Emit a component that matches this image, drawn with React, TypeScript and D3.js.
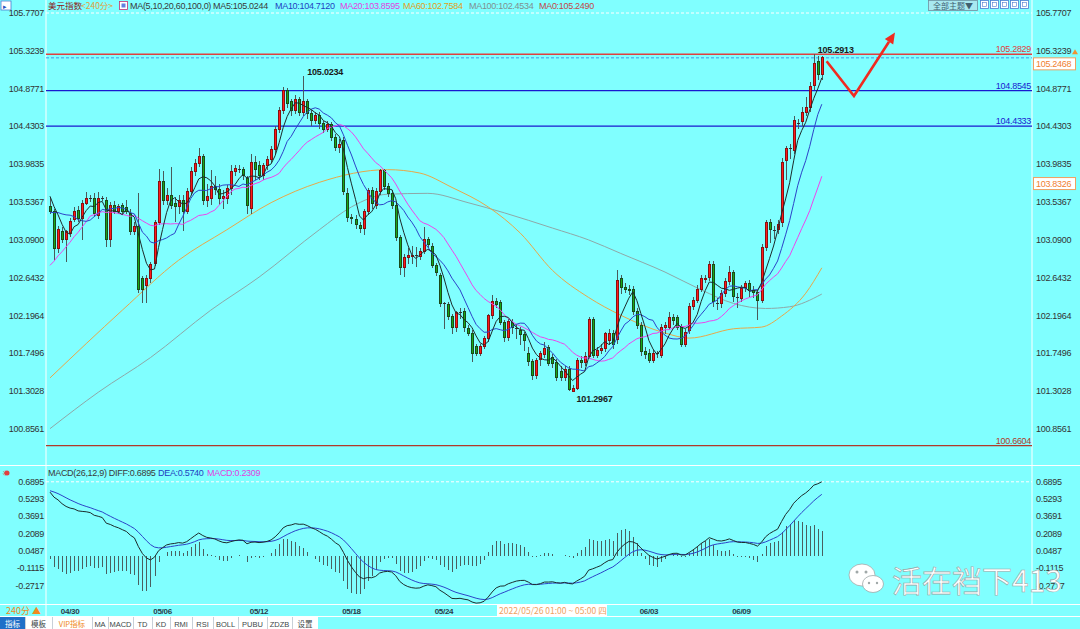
import React from "react";
import * as d3 from "d3";

// [open, high, low, close] for each 240-minute bar
const candles: [number, number, number, number][] = [
  [103.48, 103.58, 103.40, 103.43], [103.42, 103.45, 102.85, 102.99], [102.99, 103.25, 102.93, 103.21], [103.19, 103.24, 103.05, 103.09], [103.09, 103.21, 102.83, 103.19],
  [103.17, 103.35, 103.13, 103.31], [103.33, 103.48, 103.30, 103.43], [103.44, 103.49, 103.30, 103.34], [103.34, 103.56, 103.09, 103.52], [103.52, 103.66, 103.50, 103.58],
  [103.58, 103.62, 103.54, 103.58], [103.58, 103.64, 103.36, 103.40], [103.38, 103.66, 103.34, 103.58], [103.58, 103.61, 103.55, 103.58], [103.56, 103.60, 103.01, 103.09],
  [103.09, 103.54, 103.01, 103.50], [103.50, 103.55, 103.40, 103.43], [103.43, 103.52, 103.40, 103.49], [103.50, 103.53, 103.40, 103.43], [103.47, 103.56, 103.40, 103.43],
  [103.40, 103.45, 103.15, 103.19], [103.19, 103.30, 103.15, 103.25], [103.25, 103.64, 102.46, 102.50], [102.63, 102.66, 102.34, 102.50], [102.55, 102.68, 102.34, 102.63],
  [102.63, 102.83, 102.58, 102.80], [102.81, 103.33, 102.78, 103.30], [103.30, 103.93, 103.27, 103.78], [103.78, 103.91, 103.50, 103.56], [103.56, 103.70, 103.50, 103.62],
  [103.62, 103.95, 103.45, 103.50], [103.52, 103.60, 103.30, 103.48], [103.48, 103.62, 103.40, 103.55], [103.56, 103.62, 103.20, 103.43], [103.43, 103.70, 103.40, 103.66],
  [103.66, 103.95, 103.62, 103.90], [103.90, 104.05, 103.85, 103.99], [103.99, 104.17, 103.95, 104.07], [104.07, 104.10, 103.50, 103.56], [103.56, 103.75, 103.48, 103.60],
  [103.58, 103.92, 103.50, 103.72], [103.72, 103.85, 103.62, 103.69], [103.69, 103.75, 103.50, 103.58], [103.58, 103.68, 103.45, 103.60], [103.58, 103.74, 103.52, 103.70],
  [103.70, 103.98, 103.62, 103.90], [103.90, 103.98, 103.85, 103.93], [103.93, 103.97, 103.88, 103.93], [103.92, 103.95, 103.80, 103.85], [103.82, 103.85, 103.40, 103.50],
  [103.46, 104.10, 103.40, 104.01], [104.01, 104.08, 103.80, 103.92], [103.97, 104.02, 103.80, 103.85], [103.85, 104.00, 103.80, 103.97], [103.97, 104.08, 103.92, 104.04],
  [104.04, 104.20, 104.00, 104.16], [104.16, 104.44, 104.10, 104.40], [104.40, 104.66, 104.35, 104.62], [104.62, 104.90, 104.58, 104.86], [104.86, 104.89, 104.65, 104.70],
  [104.72, 104.76, 104.55, 104.62], [104.62, 104.80, 104.58, 104.75], [104.75, 104.78, 104.55, 104.60], [104.60, 105.0234, 104.55, 104.72], [104.72, 104.76, 104.52, 104.58],
  [104.58, 104.62, 104.44, 104.50], [104.50, 104.60, 104.46, 104.56], [104.56, 104.60, 104.40, 104.46], [104.46, 104.50, 104.35, 104.40], [104.40, 104.50, 104.36, 104.45],
  [104.45, 104.48, 104.26, 104.30], [104.30, 104.34, 104.14, 104.18], [104.18, 104.28, 104.12, 104.22], [104.27, 104.30, 103.62, 103.66], [103.64, 103.70, 103.30, 103.36],
  [103.36, 103.40, 103.28, 103.34], [103.33, 103.38, 103.22, 103.27], [103.26, 103.30, 103.17, 103.23], [103.23, 103.46, 103.15, 103.42], [103.42, 103.70, 103.38, 103.67],
  [103.67, 103.72, 103.45, 103.52], [103.50, 103.70, 103.46, 103.66], [103.66, 103.93, 103.62, 103.91], [103.91, 103.93, 103.68, 103.72], [103.72, 103.76, 103.60, 103.64],
  [103.64, 103.68, 103.46, 103.50], [103.50, 103.54, 103.08, 103.12], [103.12, 103.15, 102.67, 102.76], [102.76, 102.92, 102.65, 102.88], [102.88, 103.00, 102.80, 102.90],
  [102.90, 103.02, 102.80, 102.91], [102.91, 103.01, 102.77, 102.91], [102.89, 103.00, 102.85, 102.95], [102.95, 103.24, 102.92, 103.09], [103.09, 103.12, 103.00, 103.03],
  [103.01, 103.05, 102.76, 102.79], [102.79, 102.82, 102.66, 102.70], [102.67, 102.70, 102.30, 102.34], [102.34, 102.36, 102.04, 102.34], [102.33, 102.36, 102.14, 102.18],
  [102.18, 102.21, 101.98, 102.05], [102.05, 102.25, 102.00, 102.23], [102.24, 102.28, 102.15, 102.24], [102.25, 102.28, 102.00, 102.05], [102.04, 102.08, 101.95, 101.99],
  [101.99, 102.02, 101.65, 101.75], [101.83, 101.86, 101.72, 101.75], [101.75, 101.86, 101.72, 101.83], [101.83, 101.95, 101.80, 101.92], [101.92, 102.22, 101.88, 102.20],
  [102.20, 102.44, 102.16, 102.36], [102.36, 102.40, 102.28, 102.33], [102.35, 102.38, 102.08, 102.11], [102.11, 102.14, 101.88, 101.94], [101.94, 102.16, 101.90, 102.13],
  [102.12, 102.16, 101.98, 102.06], [102.05, 102.10, 101.92, 102.05], [102.02, 102.06, 101.85, 101.97], [101.97, 102.00, 101.78, 101.90], [101.75, 101.82, 101.60, 101.65],
  [101.65, 101.68, 101.43, 101.49], [101.49, 101.70, 101.45, 101.67], [101.68, 101.78, 101.60, 101.75], [101.74, 101.88, 101.70, 101.81], [101.82, 101.85, 101.60, 101.63],
  [101.70, 101.74, 101.58, 101.63], [101.64, 101.68, 101.42, 101.46], [101.54, 101.60, 101.42, 101.46], [101.46, 101.60, 101.42, 101.56], [101.56, 101.60, 101.30, 101.32],
  [101.30, 101.38, 101.2967, 101.34], [101.34, 101.70, 101.32, 101.66], [101.66, 101.72, 101.58, 101.64], [101.64, 101.76, 101.60, 101.71], [101.71, 102.18, 101.68, 102.15],
  [102.15, 102.18, 101.70, 101.73], [101.73, 101.82, 101.70, 101.78], [101.78, 101.86, 101.74, 101.81], [101.81, 102.00, 101.76, 101.98], [101.90, 102.04, 101.85, 101.98],
  [101.98, 102.02, 101.80, 101.86], [101.91, 102.73, 101.86, 102.61], [102.63, 102.68, 102.45, 102.53], [102.53, 102.58, 102.46, 102.51], [102.51, 102.56, 102.44, 102.50],
  [102.50, 102.54, 102.20, 102.24], [102.24, 102.28, 102.04, 102.08], [102.08, 102.12, 101.72, 101.77], [101.77, 101.82, 101.68, 101.74], [101.75, 101.80, 101.63, 101.67],
  [101.67, 101.79, 101.64, 101.75], [101.75, 101.78, 101.70, 101.75], [101.73, 102.10, 101.70, 102.06], [102.06, 102.12, 101.98, 102.08], [102.06, 102.24, 102.02, 102.17],
  [102.17, 102.22, 102.08, 102.14], [102.17, 102.20, 102.02, 102.06], [102.06, 102.10, 101.82, 101.85], [101.85, 102.04, 101.82, 102.00], [102.02, 102.34, 101.98, 102.30],
  [102.30, 102.42, 102.26, 102.38], [102.38, 102.56, 102.34, 102.51], [102.51, 102.68, 102.48, 102.63], [102.63, 102.68, 102.58, 102.64], [102.65, 102.84, 102.60, 102.80],
  [102.80, 102.84, 102.30, 102.36], [102.34, 102.40, 102.26, 102.34], [102.34, 102.50, 102.28, 102.46], [102.46, 102.64, 102.42, 102.60], [102.60, 102.78, 102.56, 102.71],
  [102.71, 102.74, 102.36, 102.42], [102.41, 102.46, 102.28, 102.41], [102.40, 102.56, 102.36, 102.52], [102.53, 102.60, 102.48, 102.57], [102.57, 102.62, 102.42, 102.49],
  [102.49, 102.54, 102.40, 102.47], [102.47, 102.50, 102.14, 102.38], [102.38, 103.04, 102.34, 103.00], [103.00, 103.33, 102.96, 103.29], [103.29, 103.34, 103.05, 103.21],
  [103.21, 103.26, 103.10, 103.21], [103.21, 103.32, 103.16, 103.27], [103.29, 104.06, 103.24, 104.01], [104.03, 104.20, 103.80, 104.17], [104.17, 104.22, 104.05, 104.17],
  [104.15, 104.55, 104.10, 104.50], [104.47, 104.52, 104.40, 104.47], [104.49, 104.66, 104.44, 104.60], [104.60, 104.78, 104.55, 104.66], [104.66, 104.95, 104.60, 104.90],
  [104.92, 105.2913, 104.86, 105.18], [105.20, 105.26, 104.98, 105.04], [105.04, 105.26, 104.98, 105.24],
];

// closes before the visible window (warm-up for the moving averages)
const preCloses = [102.0, 101.95, 102.1, 102.05, 102.2, 102.15, 102.3, 102.25, 102.35, 102.25, 103.05, 103.2, 103.25, 103.3, 103.35, 103.6, 103.7, 103.65, 103.65];

// long moving averages (bar index, value)
const ma60Idx = [0, 18, 32, 44, 55, 67, 84, 92, 100, 109, 117, 125, 134, 142, 153, 159, 170, 177, 182, 188, 192];
const ma60Val = [101.46, 102.26, 102.85, 103.21, 103.53, 103.77, 103.92, 103.88, 103.71, 103.48, 103.17, 102.73, 102.41, 102.20, 101.99, 101.93, 102.04, 102.06, 102.19, 102.46, 102.76];
const ma100Idx = [0, 12, 25, 40, 52, 67, 75, 84, 94, 104, 113, 125, 134, 142, 153, 162, 170, 178, 184, 192];
const ma100Val = [100.86, 101.29, 101.70, 102.26, 102.65, 103.21, 103.48, 103.63, 103.64, 103.53, 103.41, 103.23, 103.09, 102.93, 102.71, 102.50, 102.34, 102.28, 102.30, 102.45];

// EMA12, EMA26, DEA carried in from before the window
const macdSeed = [102.95, 102.35, 0.61];

const priceTicks = [105.7707, 105.3239, 104.8771, 104.4303, 103.9835, 103.5367, 103.09, 102.6432, 102.1964, 101.7496, 101.3028, 100.8561];
const macdTicks = [0.6895, 0.5293, 0.3691, 0.2089, 0.0487, -0.1115, -0.2717];
const dateLabels = ["04/30", "05/06", "05/12", "05/18", "05/24", "06/03", "06/09"];
const dateIdx = [5, 28, 52, 75, 98, 149, 172];

const levelValues = [105.2829, 104.8545, 104.4333, 100.6604];
const lastPrice = 105.2468;
const markerValue = 103.8326;
const peakIdx = [190, 63, 130];
const peakVal = [105.2913, 105.0234, 101.2967];
const arrowIdx = [193.2, 200, 209.8];
const arrowVal = [105.2, 104.79, 105.51];

const headerTexts = ["MA(5,10,20,60,100,0)", "MA5:105.0244", "MA10:104.7120", "MA20:103.8595", "MA60:102.7584", "MA100:102.4534", "MA0:105.2490"];
const tabs = ["指标", "模板", "VIP指标", "MA", "MACD", "TD", "KD", "RMI", "RSI", "BOLL", "PUBU", "ZDZB", "设置"];

const FONT = "'Liberation Sans', Arial, sans-serif";
const CJK = "'Noto Sans CJK SC', 'Noto Sans', sans-serif";

function sma(n: number): number[] {
  const all = [...preCloses, ...candles.map((c) => c[3])];
  const off = preCloses.length;
  return candles.map((_, i) => {
    const j = i + off;
    let s = 0;
    for (let k = j - n + 1; k <= j; k++) s += all[k];
    return s / n;
  });
}

export default function App() {
  const n = candles.length;
  const x = d3.scaleLinear().domain([0, n - 1]).range([50, 821.8]);
  const y = d3.scaleLinear().domain([100.8561, 105.7707]).range([429, 13]);
  const ym = d3.scaleLinear().domain([-0.2717, 0.6895]).range([585.6, 481.8]);

  const ma5 = sma(5), ma10 = sma(10), ma20 = sma(20);
  const line = d3.line<number>().x((_, i) => x(i)).y((d) => y(d));
  const knot = d3.line<[number, number]>().x((d) => x(d[0])).y((d) => y(d[1])).curve(d3.curveMonotoneX);
  const ma60 = ma60Idx.map((v, i) => [v, ma60Val[i]] as [number, number]);
  const ma100 = ma100Idx.map((v, i) => [v, ma100Val[i]] as [number, number]);

  // MACD
  let e12 = macdSeed[0], e26 = macdSeed[1], dea = macdSeed[2];
  const diffs: number[] = [], deas: number[] = [], hist: number[] = [];
  candles.forEach((c) => {
    e12 = e12 + (c[3] - e12) * 2 / 13;
    e26 = e26 + (c[3] - e26) * 2 / 27;
    const df = e12 - e26;
    dea = dea + (df - dea) * 2 / 10;
    diffs.push(df); deas.push(dea); hist.push(2 * (df - dea));
  });
  const mline = d3.line<number>().x((_, i) => x(i)).y((d) => ym(d));

  const arrowPts = arrowIdx.map((v, i) => [x(v), y(arrowVal[i])] as [number, number]);
  const [ax1, ay1] = arrowPts[1], [ax2, ay2] = arrowPts[2];
  const ang = Math.atan2(ay2 - ay1, ax2 - ax1);
  const hl = 11, hw = 5;
  const tip: [number, number] = [ax2 + Math.cos(ang) * 3, ay2 + Math.sin(ang) * 3];
  const base: [number, number] = [tip[0] - Math.cos(ang) * hl, tip[1] - Math.sin(ang) * hl];
  const head = [tip, [base[0] + Math.sin(ang) * hw, base[1] - Math.cos(ang) * hw], [base[0] - Math.sin(ang) * hw, base[1] + Math.cos(ang) * hw]];

  const headerX = [130, 213, 275, 340, 403, 469, 539];
  const headerColors = ["#3a3a3a", "#3a3a3a", "#1f3fbf", "#e23ee2", "#e0a020", "#7f8f8f", "#c04848"];
  const tabEdges = [0, 25, 52, 92, 108, 133, 152, 170, 192, 213, 238, 267, 292, 318];
  const levelColors = ["#e04040", "#1a1ad0", "#1a1ad0", "#b03a2a"];

  return (
    <svg width={1080} height={629} style={{ display: "block", position: "absolute", left: 0, top: 0 }} fontFamily={FONT}>
      <rect x={0} y={0} width={1080} height={629} fill="#80ffff" />

      {/* frame lines */}
      <line x1={46} x2={46} y1={0} y2={617} stroke="#ffffff" strokeWidth={1} />
      <line x1={1032} x2={1032} y1={0} y2={604} stroke="#ffffff" strokeWidth={1} />
      <line x1={0} x2={1080} y1={465.5} y2={465.5} stroke="#ffffff" strokeWidth={1} />
      <line x1={0} x2={1080} y1={604.5} y2={604.5} stroke="#ffffff" strokeWidth={1} />
      <line x1={0} x2={1080} y1={616.5} y2={616.5} stroke="#ffffff" strokeWidth={1} />
      <line x1={46} x2={1032} y1={y(priceTicks[0])} y2={y(priceTicks[0])} stroke="#ffffff" strokeDasharray="3,2" />
      <line x1={46} x2={1032} y1={ym(macdTicks[0])} y2={ym(macdTicks[0])} stroke="#ffffff" strokeDasharray="3,2" />

      {/* header */}
      <rect x={1} y={1} width={10} height={9} fill="#ffffff" stroke="#4a7ad0" strokeWidth={0.8} />
      <text x={3} y={8.5} fontSize={7} fill="#2050c0">▸</text>
      <text x={48} y={9} fontSize={8.5} fontFamily={CJK} fill="#8b2020">美元指数</text>
      <text x={81} y={9} fontSize={8.5} fontFamily={CJK} fill="#e0a040">{"<240分>"}</text>
      <rect x={119.5} y={1.5} width={8} height={8} fill="#ffffff" stroke="#c03070" strokeWidth={0.8} />
      <rect x={121.5} y={3.5} width={4} height={4} fill="#6080e0" />
      {headerTexts.map((t, i) => (
        <text key={t} x={headerX[i]} y={9} fontSize={9} letterSpacing={-0.3} fill={headerColors[i]}>{t}</text>
      ))}
      <rect x={928.5} y={0.5} width={49} height={10} fill="#a8e8f0" stroke="#7090a0" strokeWidth={0.8} />
      <text x={933} y={8.5} fontSize={8} fontFamily={CJK} fill="#406070">全部主题▼</text>
      {[981, 991, 1001, 1011, 1021].map((bx) => (
        <g key={bx}>
          <rect x={bx - 0.5} y={0.5} width={8} height={8} fill="#ffffff" stroke="#4a7ad0" strokeWidth={0.8} />
          <rect x={bx + 1.5} y={2.5} width={4} height={4} fill="none" stroke="#4a7ad0" strokeWidth={0.6} />
        </g>
      ))}

      {/* price ticks */}
      {priceTicks.map((t) => (
        <g key={t}>
          <text x={44} y={y(t) + 3} fontSize={9} letterSpacing={-0.3} textAnchor="end" fill="#333333">{t.toFixed(4)}</text>
          <text x={1036} y={y(t) + 3} fontSize={9} letterSpacing={-0.3} fill="#333333">{t.toFixed(4)}</text>
        </g>
      ))}

      {/* level lines */}
      {levelValues.map((v, i) => (
        <g key={v}>
          <line x1={46} x2={1032} y1={y(v)} y2={y(v)} stroke={levelColors[i]} strokeWidth={i === 0 ? 1.6 : 1.3} />
          <text x={1031} y={y(v) - 2} fontSize={9} letterSpacing={-0.3} textAnchor="end" fill={levelColors[i]}>{v.toFixed(4)}</text>
        </g>
      ))}
      <line x1={46} x2={1032} y1={y(lastPrice) + 0.5} y2={y(lastPrice) + 0.5} stroke="#3a8ce8" strokeDasharray="3,2" strokeWidth={0.9} />
      <rect x={1033.5} y={y(lastPrice) + 0.5} width={42} height={12} fill="#ffffff" stroke="#f0a060" strokeWidth={1} />
      <text x={1036} y={y(lastPrice) + 10} fontSize={9} letterSpacing={-0.3} fill="#f08030">{lastPrice.toFixed(4)}</text>
      <rect x={1033.5} y={y(markerValue) + 0.5} width={42} height={12} fill="#ffffff" stroke="#f0a060" strokeWidth={1} />
      <text x={1036} y={y(markerValue) + 10} fontSize={9} letterSpacing={-0.3} fill="#f08030">{markerValue.toFixed(4)}</text>
      <path d={`M1072,${y(lastPrice) - 3} l3,-5 l3,5 z`} fill="#f09030" />

      {/* long MAs */}
      <path d={knot(ma100) || ""} fill="none" stroke="#8ea8a8" strokeWidth={1} />
      <path d={knot(ma60) || ""} fill="none" stroke="#e8a848" strokeWidth={1} />

      {/* candles */}
      <g shapeRendering="crispEdges">
        {candles.map((c, i) => {
          const cx = Math.round(x(i));
          const [o, h, l, cl] = c;
          const up = cl > o, flat = Math.abs(cl - o) < 0.005;
          const top = y(Math.max(o, cl)), bot = y(Math.min(o, cl));
          return (
            <g key={i}>
              <line x1={cx + 0.5} x2={cx + 0.5} y1={y(h)} y2={y(l)} stroke="#4a5a5a" strokeWidth={1} />
              {flat ? (
                <line x1={cx - 1} x2={cx + 2} y1={Math.round(top) + 0.5} y2={Math.round(top) + 0.5} stroke="#303030" />
              ) : (
                <rect x={cx - 0.5} y={top} width={2} height={Math.max(1, bot - top)} fill={up ? "#ff1a1a" : "#18a818"} stroke={up ? "#8a1010" : "#1a4a1a"} strokeWidth={1} />
              )}
            </g>
          );
        })}
      </g>

      {/* short MAs */}
      <path d={line(ma20) || ""} fill="none" stroke="#ee44ee" strokeWidth={1} />
      <path d={line(ma10) || ""} fill="none" stroke="#2c44c8" strokeWidth={1} />
      <path d={line(ma5) || ""} fill="none" stroke="#1c2c2c" strokeWidth={1} />

      {/* peak labels */}
      {peakIdx.map((pi, k) => (
        <text key={pi} x={x(pi) + 4} y={k === 2 ? y(peakVal[k]) + 10 : y(peakVal[k]) - 1} fontSize={9} fontWeight="bold" letterSpacing={-0.2} fill="#1a1a1a">{peakVal[k].toFixed(4)}</text>
      ))}

      {/* red arrow */}
      <polyline points={arrowPts.slice(0, 2).concat([base]).map((p) => p.join(",")).join(" ")} fill="none" stroke="#f02a20" strokeWidth={2.6} strokeLinejoin="miter" />
      <polygon points={head.map((p) => p.join(",")).join(" ")} fill="#f02a20" />

      {/* MACD panel */}
      <circle cx={7} cy={473} r={2.5} fill="#e04040" />
      <text x={2} y={476} fontSize={8} fill="#e04040">✳</text>
      <text x={48} y={476} fontSize={9} letterSpacing={-0.3} fill="#3a3a3a">MACD(26,12,9) DIFF:0.6895</text>
      <text x={158} y={476} fontSize={9} letterSpacing={-0.3} fill="#1f3fbf">DEA:0.5740</text>
      <text x={207} y={476} fontSize={9} letterSpacing={-0.3} fill="#e23ee2">MACD:0.2309</text>
      {macdTicks.map((t) => (
        <g key={t}>
          <text x={44} y={ym(t) + 3} fontSize={9} letterSpacing={-0.3} textAnchor="end" fill="#333333">{t.toFixed(4)}</text>
          <text x={1036} y={ym(t) + 3} fontSize={9} letterSpacing={-0.3} fill="#333333">{t.toFixed(4)}</text>
        </g>
      ))}
      <g shapeRendering="crispEdges">
        {hist.map((h, i) => (
          <line key={i} x1={Math.round(x(i)) + 0.5} x2={Math.round(x(i)) + 0.5} y1={ym(0)} y2={ym(h)} stroke="#4a6060" strokeWidth={1} />
        ))}
      </g>
      <path d={mline(deas) || ""} fill="none" stroke="#2c44c8" strokeWidth={1} />
      <path d={mline(diffs) || ""} fill="none" stroke="#1c2c2c" strokeWidth={1} />

      {/* watermark */}
      <g stroke="#a0a8a8" strokeWidth={0.8} fill="#ffffff">
        <ellipse cx={862} cy={575} rx={13} ry={11} />
        <ellipse cx={873} cy={584} rx={10.5} ry={8.5} />
      </g>
      <circle cx={857} cy={572} r={1.5} fill="#a0a8a8" />
      <circle cx={866} cy={572} r={1.5} fill="#a0a8a8" />
      <circle cx={869} cy={583} r={1.2} fill="#a0a8a8" />
      <circle cx={877} cy={583} r={1.2} fill="#a0a8a8" />
      <text x={892} y={592} fontSize={30} fontFamily={CJK} fill="#ffffff" stroke="#9aa4a4" strokeWidth={0.6}>活在裆下413</text>

      {/* date axis */}
      <text x={6} y={614} fontSize={9} fontFamily={CJK} fill="#f08a20">240分 ▲</text>
      {dateLabels.map((d, i) => (
        <text key={d} x={x(dateIdx[i])} y={614} fontSize={8} fontWeight="bold" letterSpacing={-0.3} textAnchor="middle" fill="#2a3a4a">{d}</text>
      ))}
      <rect x={497} y={605} width={110} height={11} fill="#ffffff" />
      <text x={499} y={614} fontSize={8.5} fontFamily={CJK} fill="#f0a060">2022/05/26 01:00 ~ 05:00 四</text>

      {/* bottom tabs */}
      <rect x={0} y={617} width={318} height={12} fill="#ffffff" />
      <rect x={0} y={617} width={25} height={12} fill="#1f6fc8" />
      {tabs.map((t, i) => (
        <g key={t}>
          {i > 0 && <line x1={tabEdges[i] + 0.5} x2={tabEdges[i] + 0.5} y1={617} y2={629} stroke="#c8d0d8" />}
          <text x={(tabEdges[i] + tabEdges[i + 1]) / 2} y={626.5} fontSize={7.5} textAnchor="middle" fontFamily={/[A-Z]/.test(t) && i !== 2 ? FONT : CJK}
            fill={i === 0 ? "#ffffff" : i === 2 ? "#f08a20" : "#404848"}>{t}</text>
        </g>
      ))}
    </svg>
  );
}
